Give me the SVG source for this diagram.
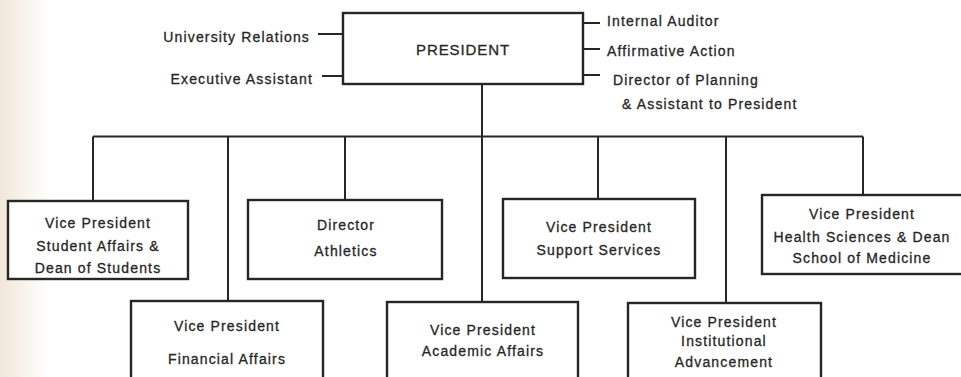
<svg xmlns="http://www.w3.org/2000/svg" width="961" height="377" viewBox="0 0 961 377">
<defs>
<linearGradient id="scan" x1="0" y1="0" x2="1" y2="0">
<stop offset="0" stop-color="#f0e7d8"/>
<stop offset="0.5" stop-color="#f8f4ec"/>
<stop offset="1" stop-color="#ffffff"/>
</linearGradient>
<style>
.box{fill:#fff;stroke:#262626;stroke-width:2.4}
.ln{stroke:#262626;stroke-width:2;fill:none}
text{font-family:"Liberation Sans",Arial,sans-serif;font-size:14px;fill:#262626;stroke:#262626;stroke-width:0.3;letter-spacing:1.15px}
.c{text-anchor:middle}
.e{text-anchor:end}
</style>
</defs>
<rect x="0" y="0" width="961" height="377" fill="#fff"/>
<rect x="0" y="0" width="50" height="377" fill="url(#scan)"/>
<g id="connectors">
<path class="ln" d="M318 34H343M322 76H343M583 23H600M583 49H600M583 75H600"/>
<path class="ln" d="M482 84V302M93 136.5H863M93 136.5V201M228 136.5V301M345 136.5V200M598 136.5V199M726 136.5V303"/>
<path class="ln" stroke-width="3" d="M863 136.5V195"/>
</g>
<g id="president">
<rect class="box" x="343" y="13" width="240" height="71"/>
<text class="c" x="463" y="55" style="font-size:15px;letter-spacing:0.9px">PRESIDENT</text>
</g>
<g id="university-relations"><text class="e" x="310" y="42">University Relations</text></g>
<g id="executive-assistant"><text class="e" x="313" y="84">Executive Assistant</text></g>
<g id="internal-auditor"><text x="607" y="26">Internal Auditor</text></g>
<g id="affirmative-action"><text x="607" y="56">Affirmative Action</text></g>
<g id="director-planning">
<text x="613" y="85">Director of Planning</text>
<text x="622" y="109">&amp; Assistant to President</text>
</g>
<g id="vp-student-affairs">
<rect class="box" x="8" y="201" width="180" height="78"/>
<text class="c" x="98" y="228">Vice President</text>
<text class="c" x="98" y="251">Student Affairs &amp;</text>
<text class="c" x="98" y="273">Dean of Students</text>
</g>
<g id="director-athletics">
<rect class="box" x="248" y="200" width="194" height="79"/>
<text class="c" x="346" y="230">Director</text>
<text class="c" x="346" y="256">Athletics</text>
</g>
<g id="vp-support-services">
<rect class="box" x="503" y="199" width="192" height="79"/>
<text class="c" x="599" y="232">Vice President</text>
<text class="c" x="599" y="255">Support Services</text>
</g>
<g id="vp-health-sciences">
<rect class="box" x="762" y="195" width="202" height="79"/>
<text class="c" x="862" y="219">Vice President</text>
<text class="c" x="862" y="242">Health Sciences &amp; Dean</text>
<text class="c" x="862" y="263">School of Medicine</text>
</g>
<g id="vp-financial-affairs">
<rect class="box" x="131" y="301" width="192" height="90"/>
<text class="c" x="227" y="331">Vice President</text>
<text class="c" x="227" y="364">Financial Affairs</text>
</g>
<g id="vp-academic-affairs">
<rect class="box" x="387" y="302" width="191" height="90"/>
<text class="c" x="483" y="335">Vice President</text>
<text class="c" x="483" y="356">Academic Affairs</text>
</g>
<g id="vp-institutional-advancement">
<rect class="box" x="628" y="303" width="193" height="90"/>
<text class="c" x="724" y="327">Vice President</text>
<text class="c" x="724" y="346">Institutional</text>
<text class="c" x="724" y="367">Advancement</text>
</g>
</svg>
